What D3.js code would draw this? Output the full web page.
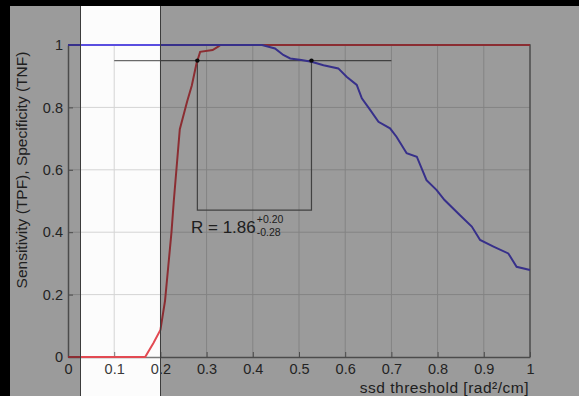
<!DOCTYPE html>
<html>
<head>
<meta charset="utf-8">
<script src="https://cdn.jsdelivr.net/npm/d3@7"></script>
<style>
  html, body { margin: 0; padding: 0; background: #000; }
  svg { display: block; }
  text { font-family: "Liberation Sans", Arial, Helvetica, sans-serif; }
</style>
</head>
<body>
<svg id="chart" width="579" height="396"></svg>
<script>
// Specificity (TNF) curve vs ssd threshold
const tnfX = [0, 0.42, 0.448, 0.466, 0.481, 0.505, 0.527, 0.553, 0.585, 0.603, 0.625, 0.636, 0.654,
              0.672, 0.697, 0.711, 0.733, 0.755, 0.776, 0.798, 0.815, 0.848, 0.874, 0.892, 0.921,
              0.953, 0.971, 1.0];
const tnfY = [1, 1, 0.989, 0.968, 0.957, 0.952, 0.946, 0.935, 0.925, 0.898, 0.872, 0.829, 0.792,
              0.754, 0.733, 0.706, 0.653, 0.642, 0.567, 0.535, 0.503, 0.455, 0.418, 0.375, 0.354,
              0.332, 0.289, 0.279];

// Sensitivity (TPF) curve vs ssd threshold
const tpfX = [0, 0.167, 0.185, 0.2, 0.21, 0.217, 0.224, 0.229, 0.242, 0.258, 0.268, 0.278, 0.286,
              0.313, 0.325, 0.33, 1.0];
const tpfY = [0, 0, 0.045, 0.087, 0.18, 0.29, 0.40, 0.50, 0.73, 0.82, 0.87, 0.94, 0.978,
              0.984, 0.995, 1, 1];

// Operating range: thresholds where both curves reach 0.95
const levelLine = [0.1, 0.7];      // x extent of the 0.95 reference line
const levelY = 0.95;
const rangeX = [0.28, 0.527];      // crossing thresholds
const rangeBottom = 0.471;         // bottom of the range box
const ratioMain = "R = 1.86";
const ratioUp = "+0.20";
const ratioDown = "-0.28";

const xTicks = [0, 0.1, 0.2, 0.3, 0.4, 0.5, 0.6, 0.7, 0.8, 0.9, 1];
const yTicks = [0, 0.2, 0.4, 0.6, 0.8, 1];

const svg = d3.select("#chart");
const W = 579, H = 396;

const x = d3.scaleLinear().domain([0, 1]).range([68, 530]);
const y = d3.scaleLinear().domain([0, 1]).range([357, 45]);

// page background
svg.append("rect").attr("x", 0).attr("y", 0).attr("width", W).attr("height", H).attr("fill", "#000");
svg.append("rect").attr("x", 10).attr("y", 6).attr("width", W - 10).attr("height", H - 6).attr("fill", "#fcfcfc");

const plot = svg.append("g");

// grid
plot.append("g").selectAll("line").data(xTicks.slice(1, -1)).join("line")
  .attr("x1", d => x(d)).attr("x2", d => x(d))
  .attr("y1", y(0)).attr("y2", y(1))
  .attr("stroke", "#d4d4d4").attr("stroke-width", 1);
plot.append("g").selectAll("line").data(yTicks.slice(1, -1)).join("line")
  .attr("x1", x(0)).attr("x2", x(1))
  .attr("y1", d => y(d)).attr("y2", d => y(d))
  .attr("stroke", "#d4d4d4").attr("stroke-width", 1);

// axes
const xAxis = d3.axisBottom(x).tickValues(xTicks).tickFormat(d3.format("~g"))
  .tickSizeInner(-5).tickSizeOuter(0).tickPadding(7);
const yAxis = d3.axisLeft(y).tickValues(yTicks).tickFormat(d3.format("~g"))
  .tickSizeInner(-5).tickSizeOuter(0).tickPadding(5);

const gx = plot.append("g").attr("transform", `translate(0,${y(0)})`).call(xAxis);
const gy = plot.append("g").attr("transform", `translate(${x(0)},0)`).call(yAxis);
[gx, gy].forEach(g => {
  g.select(".domain").attr("stroke", "#7a7a7a").attr("stroke-width", 1.5);
  g.selectAll(".tick line").attr("stroke", "#7a7a7a");
  g.selectAll(".tick text").attr("fill", "#3a3a3a").attr("font-size", 14.5);
});

// box: top and right edges
plot.append("path")
  .attr("d", `M${x(0)},${y(1)}H${x(1)}V${y(0)}`)
  .attr("fill", "none").attr("stroke", "#7a7a7a").attr("stroke-width", 1.5);

// 0.95 reference line and range box
plot.append("line")
  .attr("x1", x(levelLine[0])).attr("x2", x(levelLine[1]))
  .attr("y1", y(levelY)).attr("y2", y(levelY))
  .attr("stroke", "#6a6a6a").attr("stroke-width", 1.2);
plot.append("path")
  .attr("d", `M${x(rangeX[0])},${y(levelY)}V${y(rangeBottom)}H${x(rangeX[1])}V${y(levelY)}`)
  .attr("fill", "none").attr("stroke", "#6a6a6a").attr("stroke-width", 1.2);

// curves
const line = d3.line().x(d => x(d[0])).y(d => y(d[1]));
plot.append("path").datum(d3.zip(tpfX, tpfY)).attr("d", line)
  .attr("fill", "none").attr("stroke", "#e24a52").attr("stroke-width", 2);
plot.append("path").datum(d3.zip(tnfX, tnfY)).attr("d", line)
  .attr("fill", "none").attr("stroke", "#5a4ee0").attr("stroke-width", 2);

// crossing markers
plot.append("g").selectAll("circle").data(rangeX).join("circle")
  .attr("cx", d => x(d)).attr("cy", y(levelY)).attr("r", 2.2).attr("fill", "#111");

// ratio annotation with asymmetric error bounds
const ann = plot.append("text").attr("x", 191).attr("y", 233).attr("fill", "#333").attr("font-size", 17)
  .text(ratioMain);
const annEnd = 191 + ann.node().getComputedTextLength() + 1;
plot.append("text").attr("x", annEnd).attr("y", 223).attr("fill", "#333")
  .attr("font-size", 10.5).text(ratioUp);
plot.append("text").attr("x", annEnd).attr("y", 236).attr("fill", "#333")
  .attr("font-size", 10.5).text(ratioDown);

// axis titles
plot.append("text")
  .attr("transform", `translate(27,170) rotate(-90)`)
  .attr("text-anchor", "middle").attr("fill", "#333").attr("font-size", 15.5)
  .text("Sensitivity (TPF),  Specificity (TNF)");
plot.append("text")
  .attr("x", 529).attr("y", 392.5).attr("text-anchor", "end")
  .attr("fill", "#333").attr("font-size", 15.5).attr("letter-spacing", 0.5)
  .text("ssd threshold [rad²/cm]");

// dimmed regions on either side of the highlighted band
const band = [80, 160];
svg.append("rect").attr("x", 10).attr("y", 6).attr("width", band[0] - 10).attr("height", H - 6)
  .attr("fill", "#000").attr("opacity", 0.385);
svg.append("rect").attr("x", band[1]).attr("y", 6).attr("width", W - band[1]).attr("height", H - 6)
  .attr("fill", "#000").attr("opacity", 0.385);
svg.append("g").selectAll("line").data(band).join("line")
  .attr("x1", d => d + 0.5).attr("x2", d => d + 0.5).attr("y1", 6).attr("y2", H)
  .attr("stroke", "#3c3c3c").attr("stroke-width", 1);
</script>
</body>
</html>
